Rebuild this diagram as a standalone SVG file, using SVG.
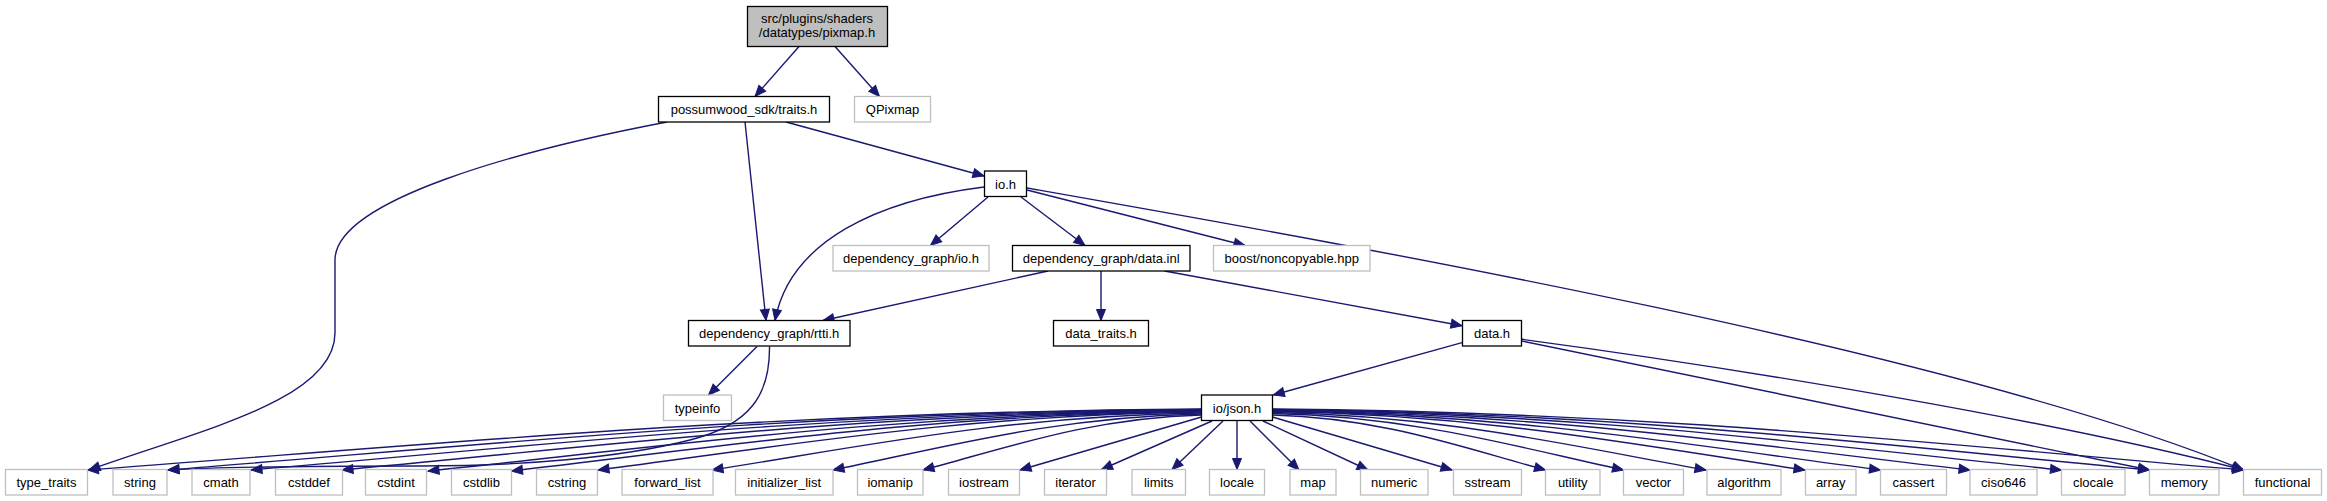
<svg xmlns="http://www.w3.org/2000/svg" width="2327" height="501" viewBox="0 0 2327 501">
<style>
.b rect{fill:#fff;stroke:#000;stroke-width:1.3}
.g rect{fill:#fff;stroke:#bfbfbf;stroke-width:1.3}
.r rect{fill:#bfbfbf;stroke:#000;stroke-width:1.3}
text{font-family:"Liberation Sans",Arial,Helvetica,sans-serif;font-size:13px;fill:#000;text-anchor:middle}
#edges path{fill:none;stroke:#191970;stroke-width:1.4;marker-end:url(#ah)}
</style>
<defs>
<marker id="ah" markerUnits="userSpaceOnUse" markerWidth="12" markerHeight="10" refX="11" refY="4.5" orient="auto" overflow="visible">
<path d="M0,0 L11,4.5 L0,9 z" fill="#191970" stroke="#191970" stroke-width="1"/>
</marker>
</defs>
<rect width="2327" height="501" fill="#fff"/>
<g id="edges">
<path d="M799,46.5 L755,96.5"/>
<path d="M835,46.5 L879.5,96.5"/>
<path d="M667,122 C520,150 335,200 335,260 L335,333 C335,400 200,430 89,470"/>
<path d="M745,122 L766,320.5"/>
<path d="M786,122 L984,176"/>
<path d="M984,187 C880,200 790,240 775,320.5"/>
<path d="M988,197 L930.5,245.5"/>
<path d="M1021,197 L1085,245.5"/>
<path d="M1027,190 L1245,245.5"/>
<path d="M1027,188 C1350,245 1950,350 2243.5,470"/>
<path d="M1048,271 L823,320.5"/>
<path d="M1101,271 L1101,320.5"/>
<path d="M1164.6,271 L1462,325.7"/>
<path d="M1462,342.7 L1273.3,395"/>
<path d="M1521.7,341 L2149.5,470"/>
<path d="M1521.7,339.3 C1750,370 2050,420 2243.5,470"/>
<path d="M757,346.5 L708.5,395"/>
<path d="M769.5,346.5 C770,395 750,425 690,440 C620,458 520,466 420,466 C300,466 220,467 168,470"/>
<path d="M1201.5,409 C755.9,412 421.7,445.6 87.5,470"/>
<path d="M1201.5,409.5 C788.1,412 478,445.8 168,470"/>
<path d="M1201.5,410 C821.3,413 536.2,446 251,470"/>
<path d="M1201.5,410.5 C857.7,413.5 599.9,446.2 342,470"/>
<path d="M1201.5,411 C892.1,414 660,447 428,471"/>
<path d="M1201.5,411.5 C925.5,414.5 718.5,447.2 511.5,471"/>
<path d="M1201.5,412 C960.1,415 779,446.8 598,470"/>
<path d="M1201.5,413 C1005.7,416 858.9,447.2 712,470"/>
<path d="M1201.5,414 C1054.1,417 943.6,447.6 833,470"/>
<path d="M1201.5,415 C1090.1,418 1006.6,448 923,470"/>
<path d="M1201.5,417 L1020,470"/>
<path d="M1212,421 L1101.5,469.5"/>
<path d="M1223,421 L1172,469.5"/>
<path d="M1237,421 L1237,469.5"/>
<path d="M1250,421 L1299,470"/>
<path d="M1263,421 L1368,470"/>
<path d="M1272.5,417 L1452,470"/>
<path d="M1272.5,415 C1381.7,417.8 1463.6,448 1545.5,470"/>
<path d="M1272.5,413.5 C1412.9,416.3 1518.2,447.4 1623.5,470"/>
<path d="M1272.5,412.5 C1445.9,415.4 1576,447 1706,470"/>
<path d="M1272.5,411.5 C1485.5,414.4 1645.3,446.6 1805,470"/>
<path d="M1272.5,411 C1515.7,414 1698.1,446.4 1880.5,470"/>
<path d="M1272.5,410.5 C1551.5,413.5 1760.8,446.2 1970,470"/>
<path d="M1272.5,410 C1588.1,413 1824.8,446 2061.5,470"/>
<path d="M1272.5,409.5 C1623.3,412.5 1886.4,445.8 2149.5,470"/>
<path d="M1272.5,409 C1660.9,412 1952.2,445.6 2243.5,470"/>
</g>
<g id="n_root" class="r"><rect x="747.5" y="6.5" width="140" height="40"/><text x="817" y="22.5">src/plugins/shaders</text><text x="817" y="37">/datatypes/pixmap.h</text></g>
<g id="n_traits" class="b"><rect x="658.5" y="96.5" width="171" height="25.5"/><text x="744" y="114">possumwood_sdk/traits.h</text></g>
<g id="n_qpixmap" class="g"><rect x="854.5" y="96.5" width="76" height="25.5"/><text x="892.5" y="114">QPixmap</text></g>
<g id="n_io" class="b"><rect x="984.5" y="171" width="42" height="25.5"/><text x="1005.5" y="188.5">io.h</text></g>
<g id="n_dgio" class="g"><rect x="833" y="245.5" width="156" height="25.5"/><text x="911" y="263">dependency_graph/io.h</text></g>
<g id="n_datainl" class="b"><rect x="1012.5" y="245.5" width="177.5" height="25.5"/><text x="1101.2" y="263">dependency_graph/data.inl</text></g>
<g id="n_boost" class="g"><rect x="1213.5" y="245.5" width="156.5" height="25.5"/><text x="1291.7" y="263">boost/noncopyable.hpp</text></g>
<g id="n_rtti" class="b"><rect x="688.5" y="320.5" width="161.5" height="25.5"/><text x="769.2" y="338">dependency_graph/rtti.h</text></g>
<g id="n_datatraits" class="b"><rect x="1053.5" y="320.5" width="95" height="25.5"/><text x="1101" y="338">data_traits.h</text></g>
<g id="n_datah" class="b"><rect x="1462.5" y="320.5" width="59" height="25.5"/><text x="1492" y="338">data.h</text></g>
<g id="n_typeinfo" class="g"><rect x="663.5" y="395" width="68" height="25.5"/><text x="697.5" y="412.5">typeinfo</text></g>
<g id="n_json" class="b"><rect x="1201.5" y="395" width="71" height="25.5"/><text x="1237" y="412.5">io/json.h</text></g>
<g id="n_type_traits" class="g"><rect x="5.5" y="469.5" width="82" height="25.5"/><text x="46.5" y="487">type_traits</text></g>
<g id="n_string" class="g"><rect x="113" y="469.5" width="54" height="25.5"/><text x="140" y="487">string</text></g>
<g id="n_cmath" class="g"><rect x="192" y="469.5" width="58" height="25.5"/><text x="221" y="487">cmath</text></g>
<g id="n_cstddef" class="g"><rect x="275.5" y="469.5" width="67" height="25.5"/><text x="309" y="487">cstddef</text></g>
<g id="n_cstdint" class="g"><rect x="365.5" y="469.5" width="61" height="25.5"/><text x="396" y="487">cstdint</text></g>
<g id="n_cstdlib" class="g"><rect x="451.5" y="469.5" width="60" height="25.5"/><text x="481.5" y="487">cstdlib</text></g>
<g id="n_cstring" class="g"><rect x="536.5" y="469.5" width="61" height="25.5"/><text x="567" y="487">cstring</text></g>
<g id="n_forward_list" class="g"><rect x="622" y="469.5" width="91" height="25.5"/><text x="667.5" y="487">forward_list</text></g>
<g id="n_initializer_list" class="g"><rect x="735.5" y="469.5" width="97.5" height="25.5"/><text x="784.2" y="487">initializer_list</text></g>
<g id="n_iomanip" class="g"><rect x="857.5" y="469.5" width="65.5" height="25.5"/><text x="890.2" y="487">iomanip</text></g>
<g id="n_iostream" class="g"><rect x="948.5" y="469.5" width="71" height="25.5"/><text x="984" y="487">iostream</text></g>
<g id="n_iterator" class="g"><rect x="1044.5" y="469.5" width="62" height="25.5"/><text x="1075.5" y="487">iterator</text></g>
<g id="n_limits" class="g"><rect x="1132" y="469.5" width="53.5" height="25.5"/><text x="1158.7" y="487">limits</text></g>
<g id="n_locale" class="g"><rect x="1209.5" y="469.5" width="55" height="25.5"/><text x="1237" y="487">locale</text></g>
<g id="n_map" class="g"><rect x="1290" y="469.5" width="46" height="25.5"/><text x="1313" y="487">map</text></g>
<g id="n_numeric" class="g"><rect x="1360.5" y="469.5" width="67.5" height="25.5"/><text x="1394.2" y="487">numeric</text></g>
<g id="n_sstream" class="g"><rect x="1453.5" y="469.5" width="68" height="25.5"/><text x="1487.5" y="487">sstream</text></g>
<g id="n_utility" class="g"><rect x="1545.5" y="469.5" width="54.5" height="25.5"/><text x="1572.7" y="487">utility</text></g>
<g id="n_vector" class="g"><rect x="1623.5" y="469.5" width="60" height="25.5"/><text x="1653.5" y="487">vector</text></g>
<g id="n_algorithm" class="g"><rect x="1707" y="469.5" width="74" height="25.5"/><text x="1744" y="487">algorithm</text></g>
<g id="n_array" class="g"><rect x="1805.5" y="469.5" width="50.5" height="25.5"/><text x="1830.7" y="487">array</text></g>
<g id="n_cassert" class="g"><rect x="1880.5" y="469.5" width="66" height="25.5"/><text x="1913.5" y="487">cassert</text></g>
<g id="n_ciso646" class="g"><rect x="1970" y="469.5" width="67" height="25.5"/><text x="2003.5" y="487">ciso646</text></g>
<g id="n_clocale" class="g"><rect x="2061.5" y="469.5" width="63.5" height="25.5"/><text x="2093.2" y="487">clocale</text></g>
<g id="n_memory" class="g"><rect x="2149.5" y="469.5" width="69.5" height="25.5"/><text x="2184.2" y="487">memory</text></g>
<g id="n_functional" class="g"><rect x="2243.5" y="469.5" width="78" height="25.5"/><text x="2282.5" y="487">functional</text></g>
</svg>
